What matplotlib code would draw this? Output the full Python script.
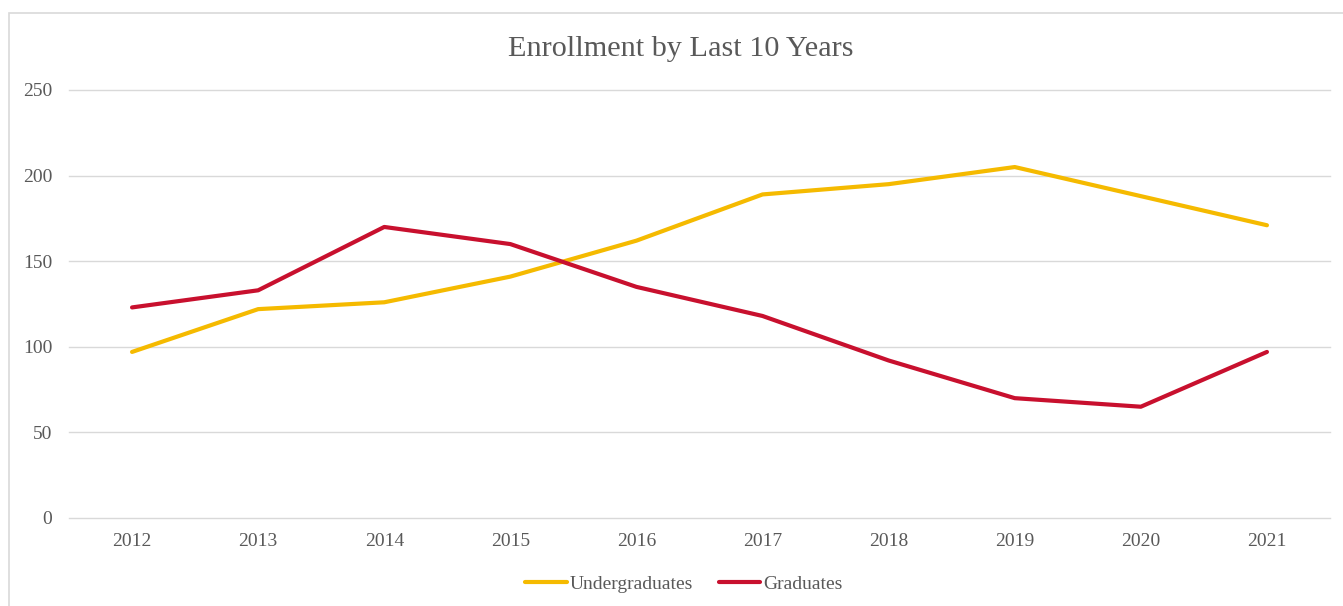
import matplotlib
matplotlib.use("Agg")
import matplotlib.pyplot as plt
from matplotlib.patches import Rectangle

years = ["2012", "2013", "2014", "2015", "2016", "2017", "2018", "2019", "2020", "2021"]
undergraduates = [97, 122, 126, 141, 162, 189, 195, 205, 188, 171]
graduates = [123, 133, 170, 160, 135, 118, 92, 70, 65, 97]
y_ticks = [0, 50, 100, 150, 200, 250]

plt.rcParams['font.family'] = ['Liberation Serif', 'DejaVu Serif']
text_color = '#595959'

fig = plt.figure(figsize=(13.43, 6.06), dpi=100)
fig.patches.append(Rectangle((9/1343, -0.05), 1.2, 1 - 13/606 + 0.05, transform=fig.transFigure,
                             fill=False, edgecolor='#d9d9d9', linewidth=1.2))
ax = fig.add_axes([69/1343, 1 - 518/606, (1330 - 69)/1343, (518 - 90)/606])

x = list(range(len(years)))
ax.plot(x, undergraduates, color='#F5BA00', linewidth=3.0, solid_capstyle='round',
        solid_joinstyle='round', label='Undergraduates', zorder=3)
ax.plot(x, graduates, color='#C8102E', linewidth=3.0, solid_capstyle='round',
        solid_joinstyle='round', label='Graduates', zorder=3)

ax.set_xlim(-0.5, len(years) - 0.5)
ax.set_ylim(0, 250)
ax.set_yticks(y_ticks)
ax.set_xticks(x)
ax.set_xticklabels(years)
ax.grid(axis='y', color='#d9d9d9', linewidth=1.0)
for gl in ax.get_ygridlines():
    gl.set_clip_on(False)
ax.set_axisbelow(True)
for s in ax.spines.values():
    s.set_visible(False)
ax.tick_params(axis='both', length=0, labelsize=14, labelcolor=text_color)
ax.tick_params(axis='y', pad=12)
ax.tick_params(axis='x', pad=11)

fig.text(681/1343, 1 - 49/606, "Enrollment by Last 10 Years", ha='center', va='center',
         fontsize=21.8, color=text_color)

leg = fig.legend(loc='center', bbox_to_anchor=(684/1343, 1 - 584/606), ncol=2, frameon=False,
                 fontsize=14, handlelength=2.15, handletextpad=0.15, columnspacing=1.3)
for t in leg.get_texts():
    t.set_color(text_color)

fig.savefig("out.png", dpi=100)
